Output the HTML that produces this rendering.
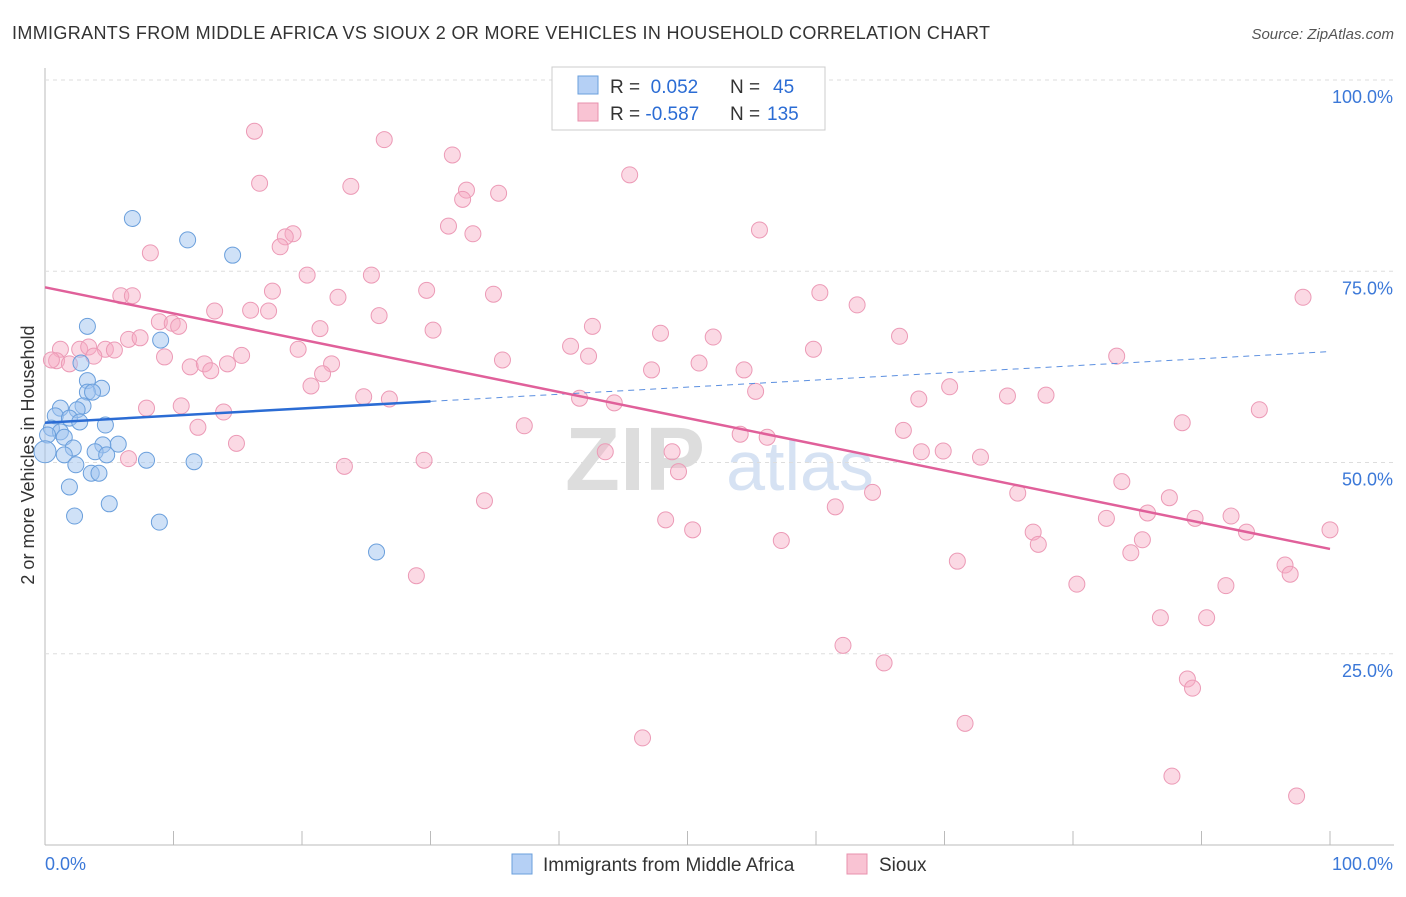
<!DOCTYPE html>
<html><head><meta charset="utf-8"><style>
body{margin:0;background:#fff;font-family:"Liberation Sans",sans-serif}
svg text{font-family:"Liberation Sans",sans-serif}
</style></head><body>
<svg id="c" width="1406" height="892">
<text x="12" y="39" font-size="18" fill="#333" textLength="978" lengthAdjust="spacing">IMMIGRANTS FROM MIDDLE AFRICA VS SIOUX 2 OR MORE VEHICLES IN HOUSEHOLD CORRELATION CHART</text>
<text x="1394" y="39" font-size="15" fill="#555" font-style="italic" text-anchor="end">Source: ZipAtlas.com</text>
<text x="34" y="455" font-size="18" fill="#333" text-anchor="middle" transform="rotate(-90 34 455)">2 or more Vehicles in Household</text>
<text x="635" y="490" font-size="90" fill="#ddd" font-family="Liberation Serif" font-weight="bold" text-anchor="middle">ZIP</text>
<text x="800" y="490" font-size="70" fill="#d6e2f3" text-anchor="middle">atlas</text>
<g id="grid"></g><g id="pts"></g><g id="lines"></g>
<g>
<rect x="552" y="67" width="273" height="63" fill="#fff" stroke="#ccc"/>
<rect x="578" y="76" width="20" height="18" fill="#b5d0f5" stroke="#6a9fdc"/>
<rect x="578" y="103" width="20" height="18" fill="#f9c3d3" stroke="#e890ae"/>
<text x="610" y="93" font-size="19" fill="#333">R = <tspan fill="#2b6cd4">&#160;0.052</tspan><tspan x="730">N = </tspan><tspan fill="#2b6cd4" x="773">45</tspan></text>
<text x="610" y="120" font-size="19" fill="#333">R = <tspan fill="#2b6cd4">-0.587</tspan><tspan x="730">N = </tspan><tspan fill="#2b6cd4" x="767">135</tspan></text>
</g>
<g>
<rect x="512" y="854" width="20" height="20" fill="#b5d0f5" stroke="#6a9fdc"/>
<text x="543" y="871" font-size="19" fill="#333">Immigrants from Middle Africa</text>
<rect x="847" y="854" width="20" height="20" fill="#f9c3d3" stroke="#e890ae"/>
<text x="879" y="871" font-size="19" fill="#333">Sioux</text>
</g>
</svg>
<script>
const blueX=[6.8,11.1,14.6,3.3,9.0,2.8,3.3,4.4,3.3,3.7,2.96,1.2,2.5,0.8,1.9,2.7,4.7,0.5,1.2,0.2,1.5,5.7,4.5,2.2,3.9,4.8,1.5,0,7.9,11.6,2.4,3.6,4.2,1.9,5.0,2.3,8.9,25.8];
const blueY=[81.9,79.1,77.1,67.8,66.0,63.0,60.7,59.7,59.2,59.2,57.4,57.1,56.9,56.1,55.8,55.3,54.9,54.5,54.0,53.6,53.3,52.4,52.3,51.9,51.4,51.0,51.0,51.4,50.3,50.1,49.7,48.6,48.6,46.8,44.6,43.0,42.2,38.3];
const pinkX=[16.3,26.4,31.7,43.5,45.5,16.7,23.8,32.8,32.5,35.3,31.4,33.3,55.6,19.3,18.7,18.3,8.2,20.4,25.4,17.7,29.7,34.9,60.3,97.9,5.9,6.8,22.8,63.2,13.2,16.0,17.4,26.0,8.9,9.9,10.4,21.4,30.2,42.6,47.9,52.0,66.5,6.5,7.4,1.2,2.7,3.4,4.7,5.4,3.8,0.9,1.9,9.3,15.3,19.7,40.9,42.3,59.8,83.4,35.6,11.3,12.4,12.9,14.2,22.3,21.6,47.2,50.9,54.4,20.7,55.3,70.4,24.8,26.8,41.6,44.3,68.0,74.9,77.9,7.9,10.6,13.9,94.5,11.9,37.3,54.1,56.2,66.8,88.5,14.9,43.6,48.8,68.2,69.9,72.8,6.5,23.3,29.5,49.3,64.4,75.7,83.8,34.2,61.5,87.5,85.8,92.3,82.6,89.5,48.3,50.4,76.9,93.5,100,57.3,77.3,85.4,84.5,71.0,96.5,96.9,28.9,80.3,91.9,86.8,90.4,62.1,65.3,88.9,89.3,71.6,46.5,87.7,97.4,0.5];
const pinkY=[93.3,92.2,90.2,99.7,87.6,86.5,86.1,85.6,84.4,85.2,80.9,79.9,80.4,79.9,79.5,78.2,77.4,74.5,74.5,72.4,72.5,72.0,72.2,71.6,71.8,71.8,71.6,70.6,69.8,69.9,69.8,69.2,68.4,68.2,67.8,67.5,67.3,67.8,66.9,66.4,66.5,66.1,66.3,64.8,64.8,65.1,64.8,64.7,63.9,63.3,62.9,63.8,64.0,64.8,65.2,63.9,64.8,63.9,63.4,62.5,62.9,62.0,62.9,62.9,61.6,62.1,63.0,62.1,60.0,59.3,59.9,58.6,58.3,58.4,57.8,58.3,58.7,58.8,57.1,57.4,56.6,56.9,54.6,54.8,53.7,53.3,54.2,55.2,52.5,51.4,51.4,51.4,51.5,50.7,50.5,49.5,50.3,48.8,46.1,46.0,47.5,45.0,44.2,45.4,43.4,43.0,42.7,42.7,42.5,41.2,40.9,40.9,41.2,39.8,39.3,39.9,38.2,37.1,36.6,35.4,35.2,34.1,33.9,29.7,29.7,26.1,23.8,21.7,20.5,15.9,14.0,9.0,6.4,63.4];
const blueTrend=[55.2,64.5];
const pinkTrend=[72.9,38.7];
const yTicks=[25,50,75,100];
const xTicks=[0,10,20,30,40,50,60,70,80,90,100];
const NS="http://www.w3.org/2000/svg";
const sx=v=>45+v*12.85, sy=v=>845-v*7.65;
function mk(t,a,p){const e=document.createElementNS(NS,t);for(const k in a)e.setAttribute(k,a[k]);document.getElementById(p).appendChild(e);return e;}
const ax=mk('line',{x1:45,y1:68,x2:45,y2:845,stroke:'#bbb'},'grid');


const bx=mk('line',{x1:45,y1:845,x2:1394,y2:845,stroke:'#bbb'},'grid');


yTicks.forEach(t=>{
 const g=mk('line',{x1:45,y1:sy(t),x2:1394,y2:sy(t),stroke:'#ddd','stroke-dasharray':'4 4'},'grid');
 
 
 const l=mk('text',{x:1393,y:sy(t)+23,'font-size':18,fill:'#3b78d8','text-anchor':'end'},'grid');
 l.textContent=t.toFixed(1)+'%';
 
 
});
xTicks.forEach(t=>{
 const k=mk('line',{x1:sx(t),y1:831,x2:sx(t),y2:845,stroke:'#bbb'},'grid');
 
 
});
[[0,'start',45],[100,'end',1393]].forEach(([v,a,x])=>{
 const l=mk('text',{x:x,y:870,'font-size':18,fill:'#3b78d8','text-anchor':a},'grid');
 l.textContent=v.toFixed(1)+'%';
 
 
});
pinkX.forEach((x,i)=>{
 const c=mk('circle',{cx:sx(x),cy:sy(pinkY[i]),r:8,fill:'rgba(246,170,195,0.45)',stroke:'#ec9ab6','stroke-width':1},'pts');
 
 
});
blueX.forEach((x,i)=>{
 const c=mk('circle',{cx:sx(x),cy:sy(blueY[i]),r:x===0?11:8,fill:'rgba(160,195,240,0.5)',stroke:'#6a9fdc','stroke-width':1},'pts');
 
 
});
const bt=v=>blueTrend[0]+(blueTrend[1]-blueTrend[0])*v/100;
const b1=mk('line',{x1:sx(0),y1:sy(bt(0)),x2:sx(30),y2:sy(bt(30)),stroke:'#2b6cd4','stroke-width':2.5},'lines');


const b2=mk('line',{x1:sx(30),y1:sy(bt(30)),x2:sx(100),y2:sy(bt(100)),stroke:'#5b8fe0','stroke-width':1,'stroke-dasharray':'6 5'},'lines');


const p1=mk('line',{x1:sx(0),y1:sy(pinkTrend[0]),x2:sx(100),y2:sy(pinkTrend[1]),stroke:'#e0609a','stroke-width':2.5},'lines');


</script>
</body></html>
